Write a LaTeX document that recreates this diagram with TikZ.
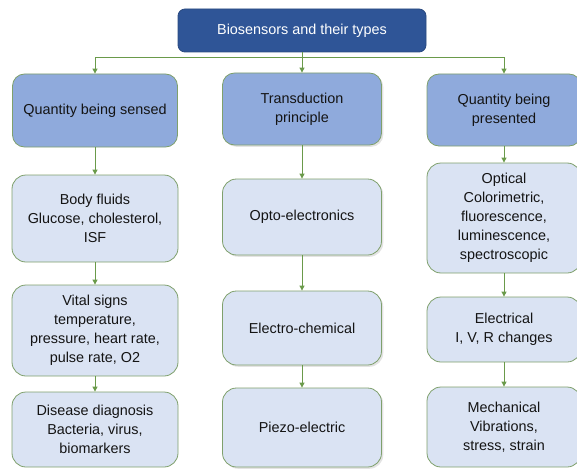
\documentclass[tikz,border=0pt]{standalone}
\usepackage{fontspec}
\setmainfont{Liberation Sans}
\usetikzlibrary{arrows.meta,shadows}
\definecolor{topblue}{HTML}{2F5597}
\definecolor{topedge}{HTML}{2A4A80}
\definecolor{midblue}{HTML}{8FAADC}
\definecolor{lightblue}{HTML}{DAE3F3}
\definecolor{boxedge}{HTML}{7FA06C}
\definecolor{arrowgreen}{HTML}{6A9A4A}
\definecolor{txt}{HTML}{141414}
\tikzset{
  base/.style={rounded corners=12pt, align=center, inner sep=2pt, line width=0.8pt,
    font=\fontsize{14.4}{19}\selectfont, text=txt},
  topbox/.style={base, fill=topblue, draw=topedge, text=white, rounded corners=7pt,
    minimum width=248pt, minimum height=43pt},
  catbox/.style={base, fill=midblue, draw=boxedge},
  itembox/.style={base, fill=lightblue, draw=boxedge, rounded corners=14pt},
  shade/.style={drop shadow={shadow xshift=1.8pt, shadow yshift=-1.8pt, opacity=0.22}},
  conn/.style={draw=arrowgreen, line width=0.9pt},
  arr/.style={conn, -{Triangle[width=5pt,length=5pt]}},
}
\begin{document}
\begin{tikzpicture}[x=1pt,y=-1pt]
\useasboundingbox (0,0) rectangle (577,468);
\node[topbox] (top) at (302,30.5) {Biosensors and their types};
\node[catbox, minimum width=165pt, minimum height=73pt] (L1) at (95,110.5) {Quantity being sensed};
\node[catbox, shade, minimum width=159pt, minimum height=72pt] (M1) at (302,109) {Transduction\\principle};
\node[catbox, minimum width=154pt, minimum height=72pt] (R1) at (504,110) {Quantity being\\presented};

\node[itembox, minimum width=166pt, minimum height=87pt] (L2) at (95,218.5) {Body fluids\\Glucose, cholesterol,\\ISF};
\node[itembox, minimum width=166pt, minimum height=91pt] (L3) at (95,330.5) {Vital signs\\temperature,\\pressure, heart rate,\\pulse rate, O2};
\node[itembox, minimum width=166pt, minimum height=75pt] (L4) at (95,429.5) {Disease diagnosis\\Bacteria, virus,\\biomarkers};

\node[itembox, shade, minimum width=159pt, minimum height=76pt] (M2) at (302,217) {Opto-electronics};
\node[itembox, shade, minimum width=159pt, minimum height=74pt] (M3) at (302,328) {Electro-chemical};
\node[itembox, shade, minimum width=159pt, minimum height=79pt] (M4) at (302,427.5) {Piezo-electric};

\node[itembox, minimum width=154pt, minimum height=110pt] (R2) at (504,218) {Optical\\Colorimetric,\\fluorescence,\\luminescence,\\spectroscopic};
\node[itembox, minimum width=154pt, minimum height=65pt] (R3) at (504,329.5) {Electrical\\I, V, R changes};
\node[itembox, minimum width=154pt, minimum height=80pt] (R4) at (504,427) {Mechanical\\Vibrations,\\stress, strain};

\coordinate (bus) at (302,57);
\draw[conn] (top) -- (bus);
\draw[arr] (bus) -| (L1);
\draw[arr] (bus) -| (R1);
\draw[arr] (top) -- (M1);

\draw[arr] (L1) -- (L2);
\draw[arr] (L2) -- (L3);
\draw[arr] (L3) -- (L4);
\draw[arr] (M1) -- (M2);
\draw[arr] (M2) -- (M3);
\draw[arr] (M3) -- (M4);
\draw[arr] (R1) -- (R2);
\draw[arr] (R2) -- (R3);
\draw[arr] (R3) -- (R4);
\end{tikzpicture}
\end{document}
